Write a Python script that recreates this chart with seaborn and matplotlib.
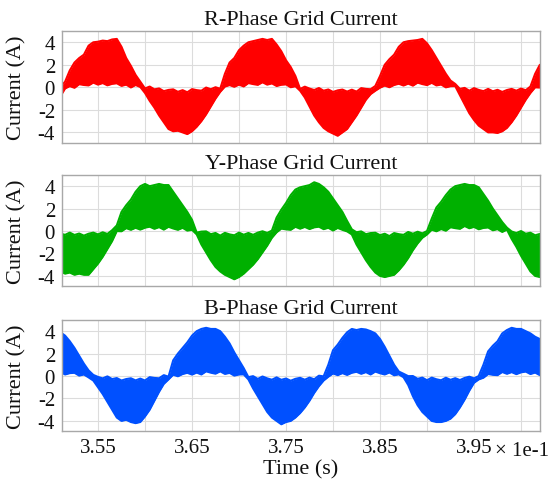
import numpy as np
import pandas as pd
import matplotlib
matplotlib.use("Agg")
import matplotlib.pyplot as plt
import seaborn as sns

# Sample instants of the scope capture (s)
time_s = [
    0.3510, 0.3515, 0.3520, 0.3525, 0.3530, 0.3535, 0.3540, 0.3545, 0.3550, 0.3555,
    0.3560, 0.3565, 0.3570, 0.3575, 0.3580, 0.3585, 0.3590, 0.3595, 0.3600, 0.3605,
    0.3610, 0.3615, 0.3620, 0.3625, 0.3630, 0.3635, 0.3640, 0.3645, 0.3650, 0.3655,
    0.3660, 0.3665, 0.3670, 0.3675, 0.3680, 0.3685, 0.3690, 0.3695, 0.3700, 0.3705,
    0.3710, 0.3715, 0.3720, 0.3725, 0.3730, 0.3735, 0.3740, 0.3745, 0.3750, 0.3755,
    0.3760, 0.3765, 0.3770, 0.3775, 0.3780, 0.3785, 0.3790, 0.3795, 0.3800, 0.3805,
    0.3810, 0.3815, 0.3820, 0.3825, 0.3830, 0.3835, 0.3840, 0.3845, 0.3850, 0.3855,
    0.3860, 0.3865, 0.3870, 0.3875, 0.3880, 0.3885, 0.3890, 0.3895, 0.3900, 0.3905,
    0.3910, 0.3915, 0.3920, 0.3925, 0.3930, 0.3935, 0.3940, 0.3945, 0.3950, 0.3955,
    0.3960, 0.3965, 0.3970, 0.3975, 0.3980, 0.3985, 0.3990, 0.3995, 0.4000, 0.4005,
    0.4010, 0.4015, 0.4020,
]

# Switching-ripple band of each phase current (A):
# outer = peak excursion of the ripple, inner = excursion on the near-zero side
r_outer = [
    -0.8, 0.5, 1.5, 2.2, 2.6, 2.9, 3.7, 4.0, 4.05, 4.15,
    4.1, 4.25, 4.3, 3.6, 2.6, 1.9, 1.1, 0.5, -0.5, -1.2,
    -1.8, -2.5, -3.1, -3.7, -3.9, -3.85, -4.0, -4.15, -3.9, -3.5,
    -3.0, -2.4, -1.7, -1.0, -0.4, 1.2, 2.2, 2.6, 3.3, 3.7,
    4.0, 4.1, 4.2, 4.3, 4.2, 4.3, 3.8, 3.2, 2.4, 1.8,
    1.0, -0.3, -0.9, -1.7, -2.5, -3.1, -3.6, -3.9, -4.1, -4.3,
    -4.0, -3.7, -3.1, -2.5, -1.8, -1.1, -0.6, -0.3, 1.0, 2.0,
    2.5, 2.9, 3.6, 4.0, 4.1, 4.15, 4.2, 4.3, 3.9, 3.3,
    2.6, 1.9, 1.2, 0.6, 0.3, -0.7, -1.5, -2.3, -2.9, -3.4,
    -3.7, -4.0, -4.0, -4.05, -3.9, -3.6, -3.1, -2.5, -1.8, -1.1,
    -0.5, 1.2, 2.0,
]
r_inner = [
    0.05, -0.10, 0.11, -0.04, 0.28, 0.21, 0.17, 0.42, 0.24, 0.38,
    0.18, 0.31, 0.36, 0.13, 0.24, -0.01, 0.21, 0.03, -0.10, 0.07,
    -0.18, -0.10, -0.34, -0.23, -0.18, -0.40, -0.25, -0.44, -0.16, -0.25,
    -0.30, -0.02, -0.17, 0.01, -0.13, 0.07, 0.20, 0.05, 0.24, 0.08,
    0.38, 0.29, 0.22, 0.45, 0.24, 0.35, 0.12, 0.23, 0.26, 0.01,
    0.10, -0.15, 0.06, -0.11, -0.24, -0.06, -0.30, -0.19, -0.41, -0.27,
    -0.20, -0.38, -0.21, -0.38, -0.07, -0.14, -0.17, 0.12, -0.03, 0.16,
    0.01, 0.21, 0.32, 0.16, 0.33, 0.15, 0.42, 0.29, 0.20, 0.40,
    0.17, 0.25, 0.00, 0.10, 0.11, -0.14, -0.05, -0.30, -0.07, -0.23,
    -0.34, -0.14, -0.35, -0.22, -0.41, -0.24, -0.14, -0.30, -0.11, -0.26,
    0.07, 0.00, -0.02,
]
y_outer = [
    -3.6, -3.8, -3.7, -3.9, -3.8, -3.9, -3.9, -3.4, -2.9, -2.3,
    -1.6, -0.9, 0.5, 1.7, 2.3, 2.8, 3.5, 4.0, 4.2, 4.0,
    4.1, 4.2, 4.1, 4.1, 3.5, 2.9, 2.3, 1.7, 1.0, -0.3,
    -1.2, -1.9, -2.6, -3.2, -3.6, -3.9, -4.1, -4.3, -4.1, -3.8,
    -3.4, -3.0, -2.5, -1.9, -1.3, -0.6, 1.2, 1.9, 2.5, 3.2,
    3.7, 3.9, 4.0, 4.1, 4.35, 4.2, 3.9, 3.5, 2.9, 2.3,
    1.7, 0.9, -0.3, -1.2, -1.9, -2.6, -3.2, -3.7, -4.0, -4.1,
    -4.0, -3.9, -3.5, -3.0, -2.4, -1.7, -1.1, -0.6, -0.3, 1.1,
    2.1, 2.6, 3.2, 3.7, 4.0, 4.1, 4.2, 4.1, 4.1, 3.9,
    3.3, 2.7, 2.0, 1.4, 0.8, 0.3, -0.7, -1.4, -2.2, -2.9,
    -3.6, -4.0, -4.1,
]
y_inner = [
    -0.23, -0.34, -0.14, -0.35, -0.22, -0.41, -0.24, -0.14, -0.30, -0.11,
    -0.26, 0.07, 0.00, -0.02, 0.26, 0.11, 0.29, 0.13, 0.30, 0.39,
    0.20, 0.35, 0.13, 0.38, 0.23, 0.11, 0.29, 0.04, 0.11, -0.14,
    -0.05, -0.03, -0.28, -0.17, -0.41, -0.16, -0.30, -0.38, -0.14, -0.33,
    -0.17, -0.34, -0.14, -0.02, -0.17, 0.04, -0.11, 0.22, 0.15, 0.11,
    0.38, 0.21, 0.37, 0.18, 0.33, 0.39, 0.17, 0.29, 0.05, 0.28,
    0.11, -0.03, 0.15, -0.11, -0.03, -0.28, -0.18, -0.15, -0.37, -0.24,
    -0.45, -0.18, -0.28, -0.34, -0.08, -0.24, -0.06, -0.21, 0.00, 0.12,
    -0.02, 0.18, 0.03, 0.34, 0.26, 0.20, 0.45, 0.25, 0.37, 0.16,
    0.28, 0.32, 0.07, 0.17, -0.08, 0.13, -0.04, -0.18, 0.00, -0.24,
    -0.15, -0.38, -0.26,
]
b_outer = [
    3.9, 3.6, 3.1, 2.5, 1.8, 1.1, 0.5, -0.4, -1.0, -1.6,
    -2.3, -3.0, -3.7, -4.0, -3.9, -4.1, -4.2, -4.1, -3.6, -3.0,
    -2.2, -1.4, -0.7, -0.3, 1.4, 2.0, 2.5, 3.0, 3.6, 4.0,
    4.2, 4.3, 4.2, 4.2, 4.0, 3.5, 2.9, 2.1, 1.4, 0.7,
    -0.3, -1.1, -1.8, -2.5, -3.2, -3.7, -4.0, -4.3, -4.1, -4.0,
    -3.7, -3.3, -2.8, -2.2, -1.5, -0.9, -0.4, 1.0, 2.3, 2.8,
    3.4, 3.9, 4.2, 4.1, 4.2, 4.15, 4.0, 3.8, 3.3, 2.6,
    1.8, 1.0, 0.4, 0.2, -0.8, -1.8, -2.6, -3.2, -3.6, -4.0,
    -4.1, -4.1, -4.0, -3.8, -3.4, -2.8, -2.1, -1.3, -0.6, -0.3,
    1.0, 2.2, 2.7, 3.1, 3.8, 4.1, 4.3, 4.2, 4.2, 4.0,
    3.8, 3.5, 3.3,
]
b_inner = [
    0.36, 0.14, 0.26, 0.29, 0.04, 0.14, -0.12, 0.10, -0.08, -0.21,
    -0.03, -0.27, -0.18, -0.40, -0.27, -0.20, -0.39, -0.23, -0.40, -0.10,
    -0.17, -0.20, 0.08, -0.06, 0.12, -0.02, 0.18, 0.29, 0.13, 0.31,
    0.14, 0.42, 0.30, 0.21, 0.42, 0.19, 0.28, 0.04, 0.14, 0.15,
    -0.10, -0.01, -0.26, -0.04, -0.21, -0.33, -0.12, -0.34, -0.22, -0.42,
    -0.25, -0.16, -0.33, -0.14, -0.29, 0.03, -0.03, -0.06, 0.23, 0.08,
    0.26, 0.10, 0.29, 0.38, 0.20, 0.35, 0.14, 0.40, 0.25, 0.14,
    0.32, 0.07, 0.15, -0.11, -0.01, 0.00, -0.25, -0.14, -0.38, -0.14,
    -0.29, -0.38, -0.15, -0.34, -0.19, -0.36, -0.17, -0.06, -0.21, 0.00,
    -0.15, 0.18, 0.11, 0.08, 0.36, 0.20, 0.35, 0.17, 0.33, 0.40,
    0.18, 0.31, 0.08,
]

phase_titles = ["R-Phase Grid Current", "Y-Phase Grid Current", "B-Phase Grid Current"]
phase_colors = ["#ff0000", "#00b000", "#0050ff"]
xtick_pos = [0.355, 0.365, 0.375, 0.385, 0.395]
xtick_labels = ["3.55", "3.65", "3.75", "3.85", "3.95"]
xgrid_pos = [0.355, 0.360, 0.365, 0.370, 0.375, 0.380, 0.385, 0.390, 0.395, 0.400]
ytick_vals = [-4, -2, 0, 2, 4]

sns.set_theme(style="whitegrid")
plt.rcParams["font.family"] = ["Liberation Serif", "DejaVu Serif"]

fig = plt.figure(figsize=(5.52, 4.89), dpi=100)
rects = [
    [0.1123, 0.7065, 0.8660, 0.2280],
    [0.1123, 0.4131, 0.8660, 0.2270],
    [0.1123, 0.1166, 0.8660, 0.2270],
]
phases = [(r_outer, r_inner), (y_outer, y_inner), (b_outer, b_inner)]

for k, (rect, title, color, (outer, inner)) in enumerate(
        zip(rects, phase_titles, phase_colors, phases)):
    ax = fig.add_axes(rect)
    outer_a = np.asarray(outer)
    inner_a = np.asarray(inner)
    df = pd.DataFrame({
        "t": time_s,
        "upper": np.maximum(outer_a, inner_a),
        "lower": np.minimum(outer_a, inner_a),
    })
    ax.fill_between(df["t"], df["lower"], df["upper"], color=color, lw=0)
    # ripple edges of the band
    sns.lineplot(data=df, x="t", y="upper", color=color, lw=1.5, ax=ax, legend=False)
    sns.lineplot(data=df, x="t", y="lower", color=color, lw=1.5, ax=ax, legend=False)

    ax.set_xlim(0.35117, 0.40202)
    ax.set_ylim(-4.9, 5.0)
    ax.set_xticks(xtick_pos)
    ax.set_xticks(xgrid_pos, minor=True)
    ax.set_yticks(ytick_vals)
    ax.set_yticklabels([str(v) for v in ytick_vals])
    ax.grid(True, which="both", color="#dcdcdc", lw=0.8)
    ax.set_axisbelow(True)
    for side in ax.spines.values():
        side.set_color("#a8a8a8")
        side.set_linewidth(1.0)
    ax.tick_params(axis="both", which="major", direction="out", length=2.5,
                   width=0.8, color="#a8a8a8", pad=2.5, labelsize=15,
                   labelcolor="#111111")
    ax.tick_params(axis="x", which="minor", length=0)
    ax.set_title(title, fontsize=16, pad=5, color="#111111")
    ax.set_ylabel("Current (A)", fontsize=16, color="#111111")
    ax.yaxis.set_label_coords(-0.075, 0.5)
    if k < 2:
        ax.set_xlabel("")
        ax.tick_params(axis="x", labelbottom=False)
    else:
        ax.set_xticklabels(xtick_labels)
        ax.set_xlabel("Time (s)", fontsize=16, color="#111111", labelpad=2)

fig.text(0.897, 0.096, "× 1e-1", fontsize=15, color="#111111", ha="left", va="top")

fig.savefig("out.png", dpi=100)
